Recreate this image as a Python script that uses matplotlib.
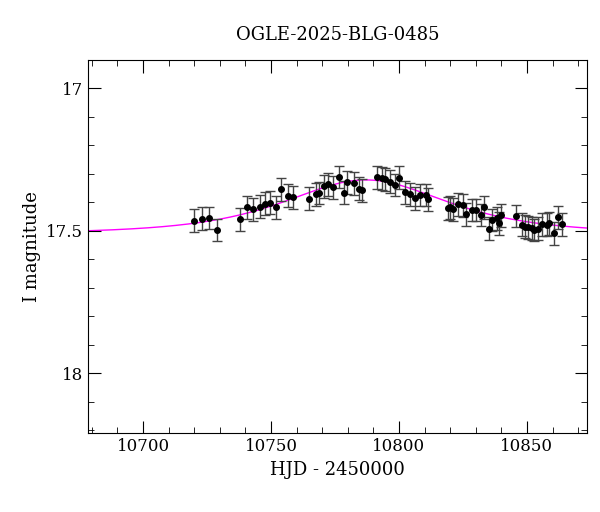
import numpy as np
import matplotlib
matplotlib.use("Agg")
import matplotlib.pyplot as plt
from matplotlib.ticker import MultipleLocator

plt.rcParams["font.family"] = "DejaVu Serif"

# photometry (HJD-2450000, I mag)
hjd = [10719.9, 10722.9, 10725.8, 10728.9, 10737.8, 10740.8, 10742.8, 10745.7, 10747.8,
       10749.6, 10751.8, 10753.8, 10756.5, 10758.6, 10764.7, 10767.5, 10768.6, 10770.6,
       10772.4, 10774.3, 10776.4, 10778.4, 10779.6, 10782.5, 10784.4, 10785.4, 10791.3,
       10793.2, 10794.4, 10796.5, 10798.3, 10800.0, 10802.3, 10804.3, 10806.3, 10808.2,
       10810.4, 10811.5, 10819.0, 10819.9, 10821.2, 10822.9, 10825.1, 10826.2, 10828.4,
       10830.1, 10831.9, 10833.1, 10835.2, 10836.2, 10838.2, 10839.2, 10839.8, 10845.9,
       10847.9, 10849.2, 10850.5, 10851.8, 10852.8, 10854.4, 10855.7, 10857.7, 10858.7,
       10860.5, 10862.0, 10863.7]
mag = [17.465, 17.458, 17.455, 17.497, 17.459, 17.417, 17.424, 17.415, 17.405,
       17.401, 17.417, 17.354, 17.376, 17.382, 17.387, 17.372, 17.367, 17.343,
       17.337, 17.347, 17.311, 17.366, 17.330, 17.333, 17.352, 17.357, 17.312,
       17.316, 17.319, 17.328, 17.339, 17.314, 17.365, 17.372, 17.386, 17.374,
       17.374, 17.389, 17.421, 17.418, 17.424, 17.407, 17.411, 17.442, 17.427,
       17.427, 17.444, 17.417, 17.493, 17.462, 17.456, 17.473, 17.445, 17.448,
       17.479, 17.485, 17.488, 17.491, 17.497, 17.493, 17.477, 17.479, 17.474,
       17.508, 17.452, 17.477]
err = [0.04] * len(hjd)

# point-lens model parameters
t0, tE, u0, base = 10787.0, 33.0, 1.3, 17.51

fig = plt.figure(figsize=(6, 5.12), dpi=100)
ax = fig.add_axes([0.1467, 0.154, 0.8313, 0.729])

t = np.linspace(10670, 10880, 600)
u = np.sqrt(u0**2 + ((t - t0) / tE)**2)
A = (u**2 + 2) / (u * np.sqrt(u**2 + 4))
ax.plot(t, base - 2.5 * np.log10(A), color="magenta", lw=1, zorder=1)

ax.errorbar(hjd, mag, yerr=err, fmt="o", color="black", ms=4, ecolor="#444444",
            elinewidth=1, capsize=3.5, capthick=1, zorder=2)

ax.set_xlim(10678.5, 10873.4)
ax.set_ylim(18.21, 16.90)
ax.xaxis.set_major_locator(MultipleLocator(50))
ax.xaxis.set_minor_locator(MultipleLocator(10))
ax.yaxis.set_major_locator(MultipleLocator(0.5))
ax.yaxis.set_minor_locator(MultipleLocator(0.1))
ax.tick_params(which="both", direction="in", top=True, right=True, labelsize=12)
ax.tick_params(which="major", length=9)
ax.tick_params(which="minor", length=4)
ax.yaxis.set_major_formatter(matplotlib.ticker.FuncFormatter(lambda v, p: f"{v:g}"))

ax.set_xlabel("HJD - 2450000", fontsize=13)
ax.set_ylabel("I magnitude", fontsize=13)
ax.set_title("OGLE-2025-BLG-0485", fontsize=13, pad=14)

fig.savefig("out.png", dpi=100)
